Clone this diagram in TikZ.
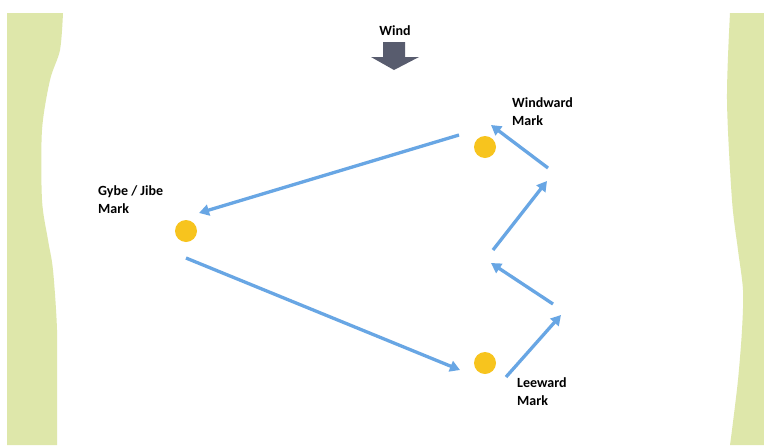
\documentclass[tikz,border=0pt]{standalone}
\usepackage{fontspec}
\setmainfont{Carlito}
\usetikzlibrary{arrows.meta,positioning}
\definecolor{courseblue}{RGB}{104,166,228}
\definecolor{markyellow}{RGB}{247,196,30}
\definecolor{bggreen}{RGB}{222,231,170}
\definecolor{windgray}{RGB}{88,92,110}
\tikzset{
  markvtx/.style={circle,fill=markyellow,inner sep=0pt,minimum size=22pt},
  leg/.style={-{Triangle[length=10pt,width=11pt]},line width=3.3pt,draw=courseblue},
  lbl/.style={font=\bfseries\fontsize{14}{18}\selectfont,align=left,inner sep=0pt},
  strip/.style={fill=bggreen,draw=none}
}
\begin{document}
\begin{tikzpicture}[x=1pt,y=-1pt]
\useasboundingbox (0,0) rectangle (764,445);
% background
\fill[white] (0,0) rectangle (764,445);
\fill[strip] (7,445) -- (7,13) -- plot[smooth] coordinates {(63,13) (60,50) (50,80) (42,130) (42,200) (48,240) (53,270) (57,330) (57,400) (57,445)} -- cycle;
\fill[strip] (764,13) -- (764,445) -- plot[smooth] coordinates {(730,445) (732,430) (738,380) (742,330) (743,290) (738,250) (732,200) (727,100) (730,13)} -- cycle;
% wind
\node[lbl,anchor=north] (wind) at (395,25) {Wind};
\fill[windgray] (383,42) -- (405,42) -- (405,57) -- (419,57) -- (394,70) -- (371,57) -- (383,57) -- cycle;
% marks
\node[markvtx] (windward) at (485,147) {};
\node[markvtx] (gybe) at (186,231) {};
\node[markvtx] (leeward) at (485,363) {};
\node[lbl,anchor=north west] (windwardlbl) at (512,97) {Windward\\Mark};
\node[lbl,anchor=north west] (gybelbl) at (98,185) {Gybe / Jibe\\Mark};
\node[lbl,anchor=north west] (leewardlbl) at (517,377) {Leeward\\Mark};
% course legs
\coordinate (reach1s) at (459,135);
\coordinate (reach1e) at (199,213);
\coordinate (reach2s) at (186,258);
\coordinate (reach2e) at (460,370);
\coordinate (beat1s) at (506,377);
\coordinate (beat1e) at (561,315);
\coordinate (beat2s) at (553,304);
\coordinate (beat2e) at (491,263);
\coordinate (beat3s) at (493,250);
\coordinate (beat3e) at (547,181);
\coordinate (beat4s) at (548,168);
\coordinate (beat4e) at (491,125);
\foreach \s/\t in {reach1s/reach1e,reach2s/reach2e,beat1s/beat1e,beat2s/beat2e,beat3s/beat3e,beat4s/beat4e} {
  \draw[leg] (\s) -- (\t);
}
\end{tikzpicture}
\end{document}
